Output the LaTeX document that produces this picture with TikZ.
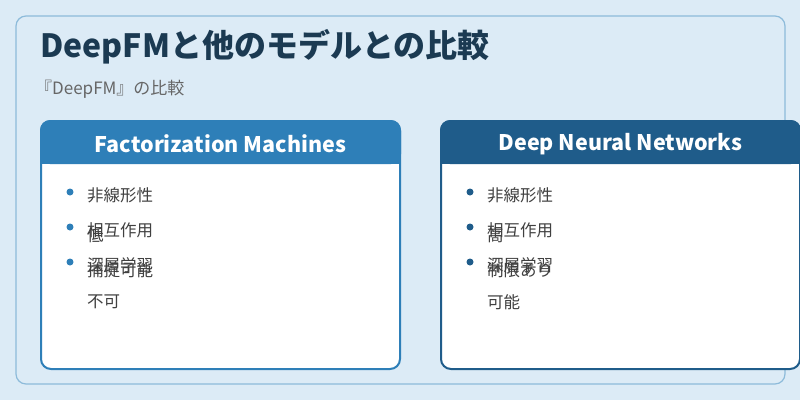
\documentclass[tikz,border=0pt]{standalone}
\usepackage{fontspec}
\setmainfont{Noto Sans CJK JP}
\begin{document}
\begin{tikzpicture}[x=1pt,y=-1pt,
  txt/.style={anchor=west,inner sep=0pt,font=\fontsize{16.5}{16.5}\selectfont,text=black!75},
  dot/.style={circle,inner sep=0pt,minimum size=7pt}]
\definecolor{bgc}{HTML}{DCEBF6}
\definecolor{brd}{HTML}{8DBBDA}
\definecolor{cA}{HTML}{2E7FB8}
\definecolor{cB}{HTML}{1F5C8A}
\definecolor{ttl}{HTML}{1B3A52}
\useasboundingbox (0,0) rectangle (800,400);
\fill[bgc] (0,0) rectangle (800,400);
\draw[brd,fill=bgc,rounded corners=10pt,line width=1.2pt] (16,16) rectangle (785,384);
\node[anchor=west,inner sep=0pt,text=ttl,font=\fontsize{32}{32}\selectfont\bfseries] (title) at (40,47) {DeepFMと他のモデルとの比較};
\node[anchor=west,inner sep=0pt,text=black!60,font=\fontsize{17}{17}\selectfont] (sub) at (35,89) {『DeepFM』の比較};
% left card
\draw[cA,fill=white,line width=2pt,rounded corners=10pt] (41,121) rectangle (400,369);
\fill[cA,rounded corners=10pt] (40,120) rectangle (401,164);
\fill[cA] (40,150) rectangle (401,164);
\node[text=white,font=\fontsize{21.5}{21.5}\selectfont\bfseries] (hA) at (220.5,144) {Factorization Machines};
% right card
\draw[cB,fill=white,line width=2pt,rounded corners=10pt] (441,121) rectangle (800,369);
\fill[cB,rounded corners=10pt] (440,120) rectangle (801,164);
\fill[cB] (440,150) rectangle (801,164);
\node[text=white,font=\fontsize{21.5}{21.5}\selectfont\bfseries] (hB) at (620.5,144) {Deep Neural Networks};
% left items
\foreach \y/\t in {195/非線形性,230/相互作用,265/深層学習}{
  \node[dot,fill=cA] at (70,\y-3) {};
  \node[txt] at (87,\y) {\t};}
\node[txt] (la) at (87,235) {低};
\node[txt] (lb) at (87,270) {捕捉可能};
\node[txt] (lc) at (87,302) {不可};
% right items
\foreach \y/\t in {195/非線形性,230/相互作用,265/深層学習}{
  \node[dot,fill=cB] at (470,\y-3) {};
  \node[txt] at (487,\y) {\t};}
\node[txt] (ra) at (487,235) {高};
\node[txt] (rb) at (487,270) {制限あり};
\node[txt] (rc) at (487,302) {可能};
\end{tikzpicture}
\end{document}
